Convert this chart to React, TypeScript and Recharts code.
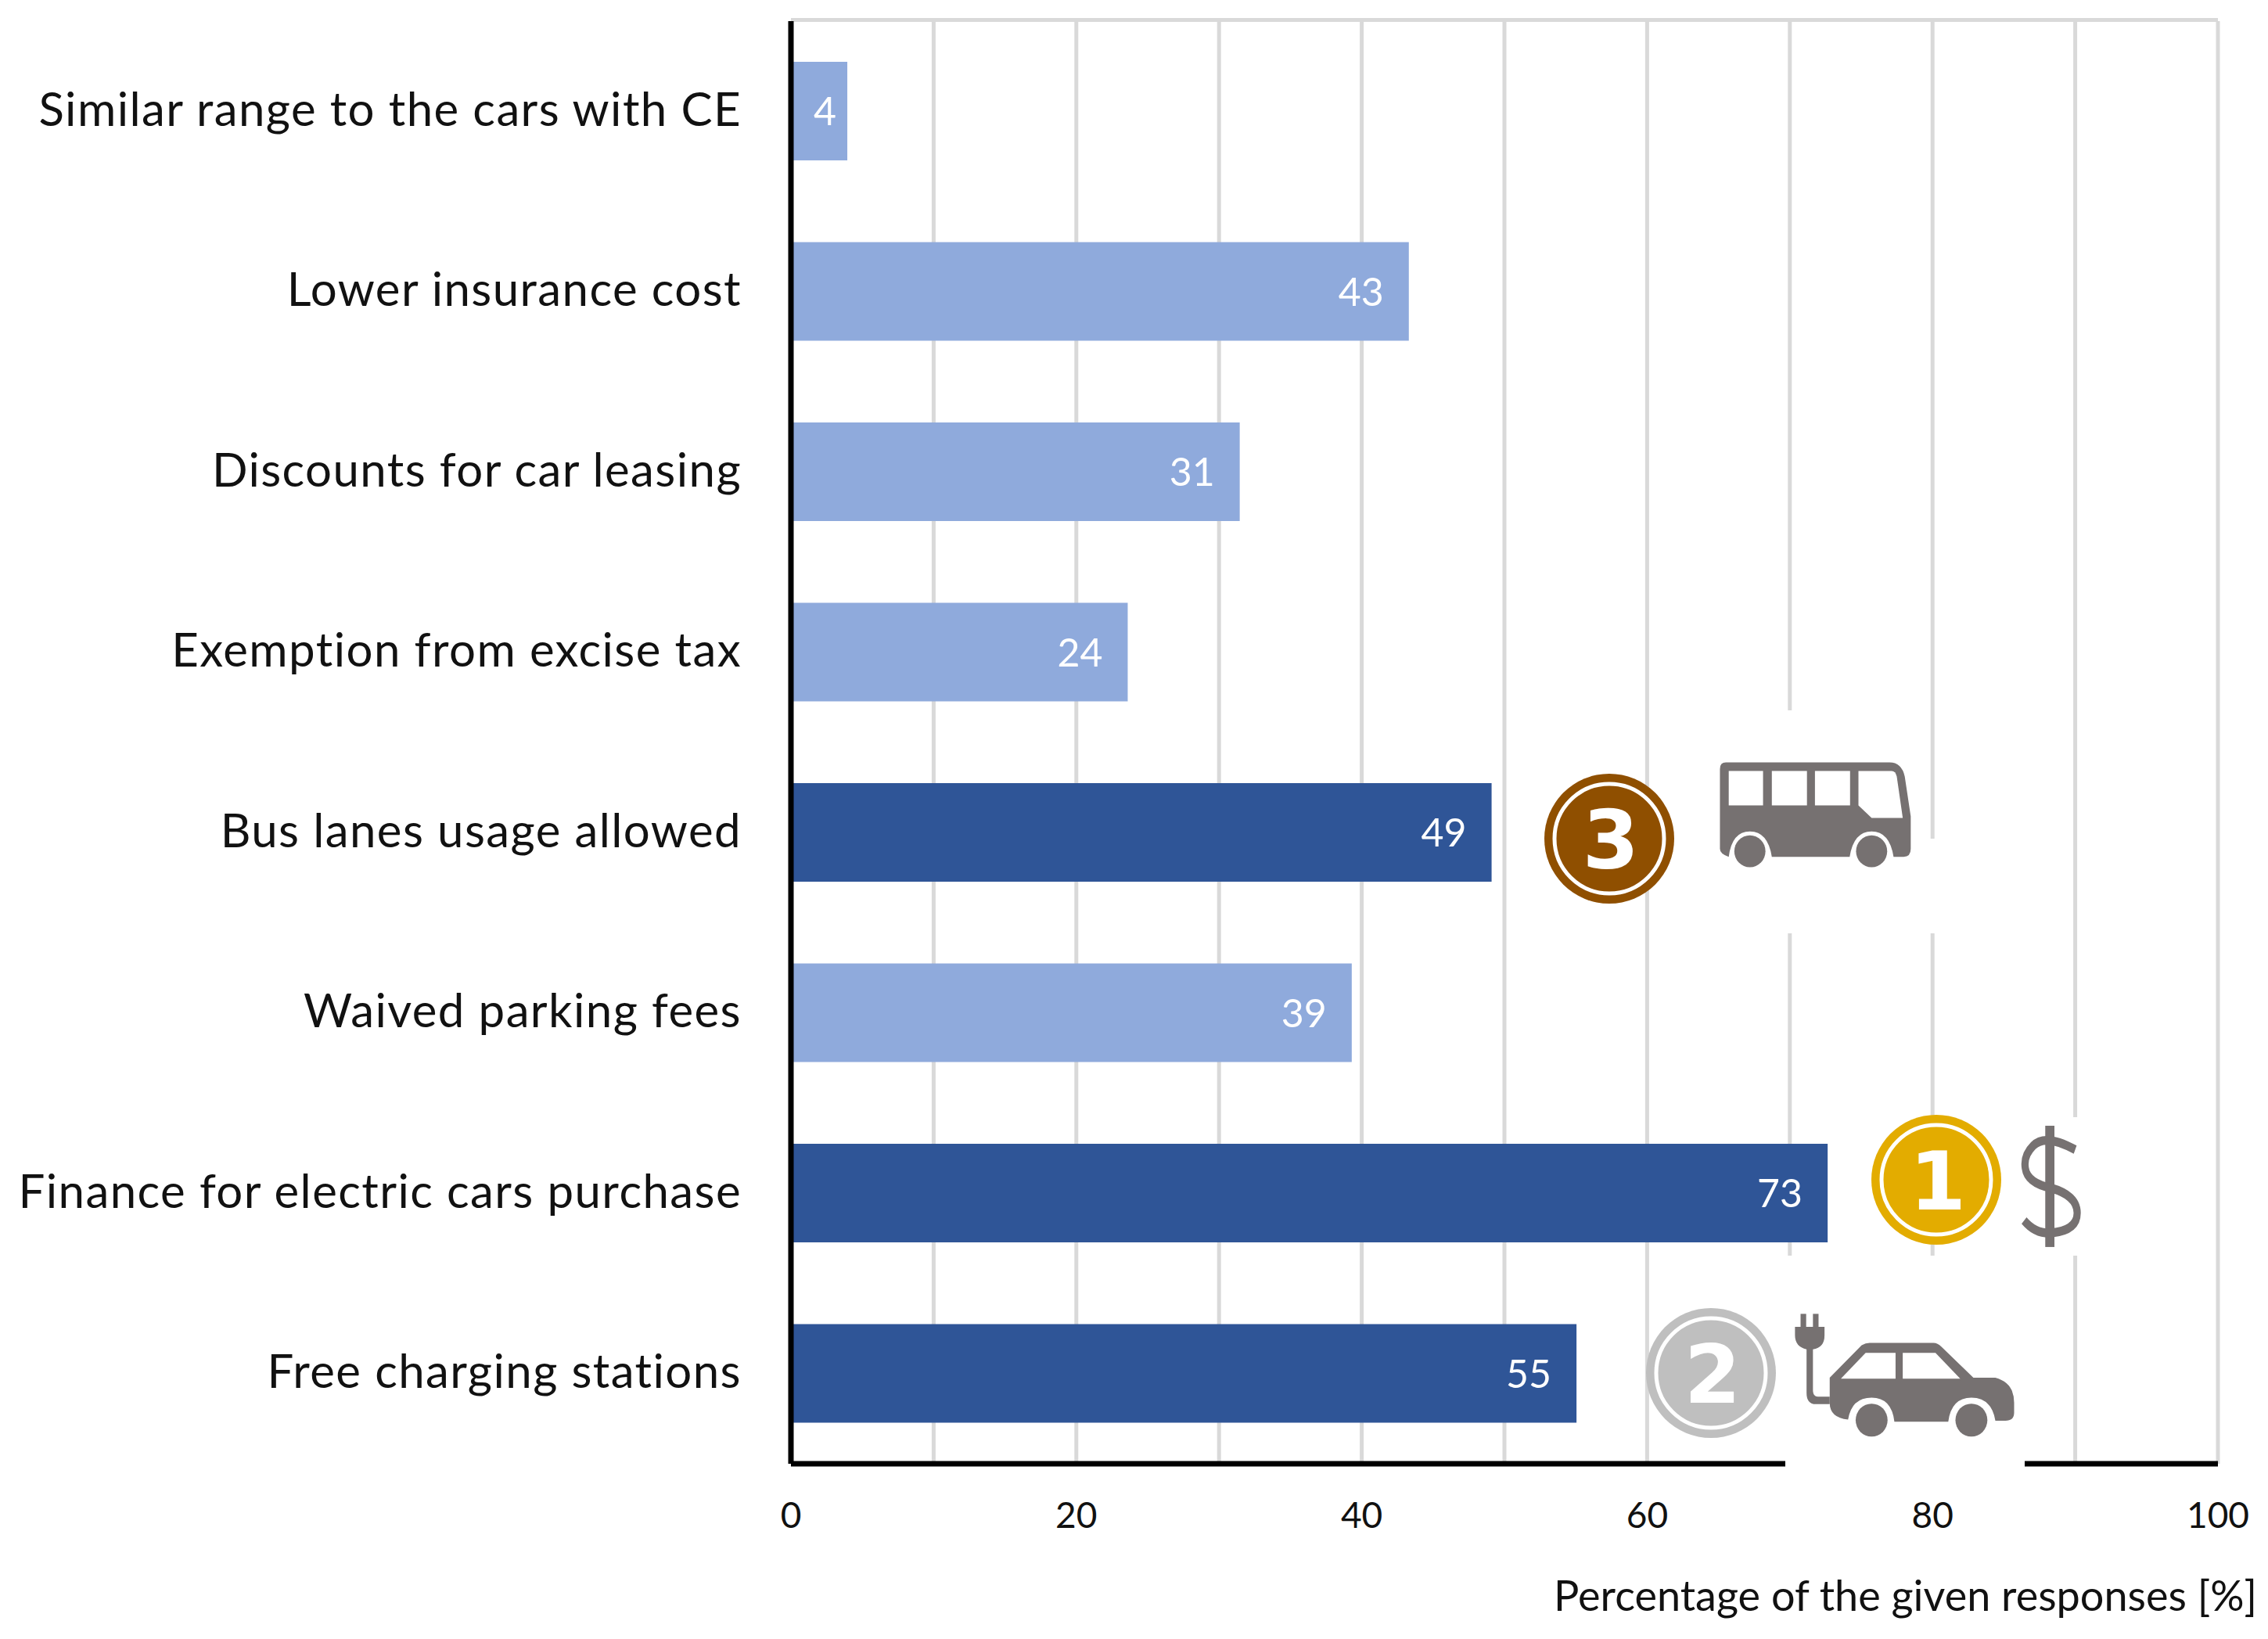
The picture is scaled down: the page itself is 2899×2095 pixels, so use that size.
import { BarChart, Bar, Cell, XAxis, YAxis, CartesianGrid, LabelList } from 'recharts'

const categories = [
  'Similar range to the cars with CE',
  'Lower insurance cost',
  'Discounts for car leasing',
  'Exemption from excise tax',
  'Bus lanes usage allowed',
  'Waived parking fees',
  'Finance for electric cars purchase',
  'Free charging stations',
]
const responses = [3.95, 43.3, 31.45, 23.6, 49.1, 39.3, 72.65, 55.05]
const topThree = [false, false, false, false, true, false, true, true]
const xTicks = [0, 10, 20, 30, 40, 50, 60, 70, 80, 90, 100]

const chartData = categories.map((name, i) => ({ name, value: responses[i] }))

const FONT = 'Lato, "Open Sans", sans-serif'
const LIGHT = '#8faadc'
const DARK = '#2f5597'
const GRID = '#d9d9d9'
const ICON = '#767171'
const TEXT = '#111111'

function Medal({ cx, cy, color, n }: { cx: number; cy: number; color: string; n: string }) {
  return (
    <g>
      <circle cx={cx} cy={cy} r={83} fill={color} />
      <circle cx={cx} cy={cy} r={70} fill="none" stroke="#fff" strokeWidth={5} />
      <text x={cx + 2} y={cy + 38} textAnchor="middle" fontFamily="DejaVu Sans" fontWeight="bold" fontSize={104} fill="#fff">{n}</text>
    </g>
  )
}

// value inside the bar end, the short first bar keeps it closer to the end
function BarValue(props: any) {
  const { x, y, width, height, value } = props
  const gap = width < 100 ? 14 : 32
  return (
    <text x={x + width - gap} y={y + height / 2 + 18} textAnchor="end" fill="#fff" fontFamily={FONT} fontSize={50}>
      {Math.round(value)}
    </text>
  )
}

// white patches, pictograms and medals, they sit on top of the chart like pasted images
function Overlay() {
  return (
    <svg width={2899} height={2095} style={{ position: 'absolute', left: 0, top: 0 }}>
      <rect x={2190} y={908} width={210} height={285} fill="#fff" />
      <rect x={2300} y={1072} width={180} height={121} fill="#fff" />
      <rect x={2580} y={1428} width={85} height={177} fill="#fff" />
      <rect x={2282} y={1605} width={306} height={275} fill="#fff" />

      <Medal cx={2057} cy={1072} color="#8f4f00" n="3" />
      <Medal cx={2475} cy={1508} color="#e3ac00" n="1" />
      <Medal cx={2187} cy={1755} color="#bfbfbf" n="2" />

      <g transform="translate(1900,900) scale(0.5102,0.6378)" fill={ICON}>
        {/* bus */}
        <path d="M585 130 Q585 117 600 117 L1010 117 Q1040 117 1048 145 L1063 225 L1063 290 Q1063 306 1045 306 L1020 306 Q1010 255 965 255 Q920 255 910 306 L715 306 Q705 255 660 255 Q615 255 607 306 Q585 300 585 290 Z" />
        <rect x={607} y={134} width={86} height={69} fill="#fff" />
        <rect x={715} y={134} width={88} height={69} fill="#fff" />
        <rect x={823} y={134} width={88} height={69} fill="#fff" />
        <path d="M932 134 L1015 134 Q1025 134 1028 145 L1043 228 L965 228 L932 203 Z" fill="#fff" />
        <ellipse cx={660} cy={295} rx={39} ry={32} />
        <ellipse cx={965} cy={295} rx={39} ry={32} />

        {/* dollar */}
        <rect x={1400} y={845} width={23} height={243} />
        <path d="M1475 893 Q1400 860 1370 885 Q1345 905 1350 930 Q1355 960 1415 970 Q1480 985 1480 1020 Q1480 1055 1415 1060 Q1375 1062 1347 1035" fill="none" stroke={ICON} strokeWidth={18} />

        {/* electric car */}
        <path d="M860 1350 L940 1285 Q950 1280 960 1280 L1120 1280 Q1130 1280 1140 1288 L1220 1350 L1275 1350 Q1322 1360 1322 1400 L1322 1420 Q1322 1436 1300 1436 L1275 1436 Q1265 1390 1215 1390 Q1165 1390 1157 1438 L1022 1438 Q1015 1390 965 1390 Q915 1390 906 1434 Q860 1430 860 1400 Z" />
        <path d="M888 1352 L950 1300 L1025 1300 L1025 1352 Z" fill="#fff" />
        <path d="M1043 1300 L1125 1300 L1187 1352 L1043 1352 Z" fill="#fff" />
        <ellipse cx={965} cy={1435} rx={40} ry={33} />
        <ellipse cx={1215} cy={1435} rx={40} ry={33} />
        <rect x={787} y={1222} width={14} height={30} />
        <rect x={818} y={1222} width={14} height={30} />
        <path d="M773 1248 L847 1248 L847 1265 Q847 1290 818 1293 L818 1375 Q818 1388 830 1388 L860 1388 L860 1403 L825 1403 Q802 1403 802 1380 L802 1293 Q773 1288 773 1265 Z" />
      </g>
    </svg>
  )
}

export default function App() {
  return (
    <div style={{ position: 'absolute', left: 0, top: 0, width: 2899, height: 2095, background: '#fff', overflow: 'hidden' }}>
      <BarChart
        width={2899}
        height={2095}
        data={chartData}
        layout="vertical"
        margin={{ top: 27, right: 64, bottom: 0, left: 0 }}
      >
        <CartesianGrid
          stroke={GRID}
          strokeWidth={5}
          horizontalCoordinatesGenerator={() => [25.5]}
        />
        <Bar dataKey="value" barSize={126} isAnimationActive={false}>
          {chartData.map((entry, index) => (
            <Cell key={`cell-${index}`} fill={topThree[index] ? DARK : LIGHT} />
          ))}
          <LabelList dataKey="value" content={BarValue} />
        </Bar>
        <XAxis
          type="number"
          domain={[0, 100]}
          ticks={xTicks}
          interval={0}
          tickFormatter={(v: number) => (v % 20 === 0 ? String(v) : '')}
          axisLine={{ stroke: '#000', strokeWidth: 7 }}
          tickLine={false}
          tickMargin={43}
          tick={{ fill: TEXT, fontFamily: FONT, fontSize: 46 }}
          height={224}
          label={{ value: 'Percentage of the given responses [%]', position: 'insideBottomRight', dx: 55, dy: -31, style: { fill: TEXT, fontFamily: FONT, fontSize: 54 } }}
        />
        <YAxis
          type="category"
          dataKey="name"
          width={1011}
          interval={0}
          axisLine={{ stroke: '#000', strokeWidth: 7 }}
          tickLine={false}
          tickMargin={57}
          tick={{ fill: TEXT, fontFamily: FONT, fontSize: 60, letterSpacing: 1.4, dy: -3 }}
        />
      </BarChart>
      <Overlay />
    </div>
  )
}
